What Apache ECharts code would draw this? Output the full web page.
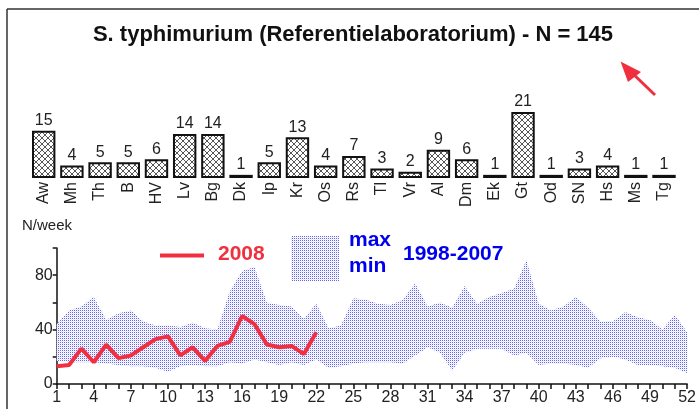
<!DOCTYPE html>
<html><head><meta charset="utf-8">
<script src="https://cdn.jsdelivr.net/npm/echarts@6/dist/echarts.min.js"></script>
<style>html,body{margin:0;padding:0;background:#fff}#c{width:699px;height:409px}</style>
</head><body><div id="c"></div>
<script>
// ---- data ----
const labCategories = ['Aw','Mh','Th','B','HV','Lv','Bg','Dk','Ip','Kr','Os','Rs','Tl','Vr','Al','Dm','Ek','Gt','Od','SN','Hs','Ms','Tg'];
const labCounts = [15,4,5,5,6,14,14,1,5,13,4,7,3,2,9,6,1,21,1,3,4,1,1];
const weeks = ['1','2','3','4','5','6','7','8','9','10','11','12','13','14','15','16','17','18','19','20','21','22','23','24','25','26','27','28','29','30','31','32','33','34','35','36','37','38','39','40','41','42','43','44','45','46','47','48','49','50','51','52'];
const cases2008 = [13,14,26,16,29,19,21,27,33,35,21,27,17,28,31,50,44,29,27,28,22,38];
const max9807 = [44,54,57,64,47,52,54,46,43,43,42,45,41,40,68,83,86,60,58,57,48,59,41,43,63,62,59,58,62,74,57,60,56,72,59,64,67,70,91,59,54,57,64,56,46,46,53,49,47,40,51,38];
const min9807 = [17,16,16,16,15,14,13,13,12,9,13,14,13,13,16,15,18,16,14,16,14,18,12,13,15,16,16,16,15,21,27,23,10,23,26,26,26,21,23,14,15,15,14,12,19,20,18,14,14,13,12,8];
const yTickValues = [0,40,80];

// ---- patterns ----
function hatch() {
  const c = document.createElement('canvas'); c.width = 6; c.height = 6;
  const g = c.getContext('2d');
  g.fillStyle = '#ffffff'; g.fillRect(0,0,6,6);
  g.strokeStyle = '#555555'; g.lineWidth = 1;
  g.beginPath(); g.moveTo(0,0); g.lineTo(6,6); g.moveTo(6,0); g.lineTo(0,6); g.stroke();
  return c;
}
function dots() {
  const c = document.createElement('canvas'); c.width = 2; c.height = 2;
  const g = c.getContext('2d');
  g.fillStyle = '#ffffff'; g.fillRect(0,0,2,2);
  g.fillStyle = '#6262ff'; g.fillRect(0,0,1,1);
  g.fillStyle = '#e4e4ff'; g.fillRect(1,1,1,1);
  return c;
}
const hatchPat = {image: hatch(), repeat: 'repeat'};
const dotPat = {image: dots(), repeat: 'repeat'};
const bandRange = max9807.map((v,i) => v - min9807[i]);

const chart = echarts.init(document.getElementById('c'), null, {renderer: 'canvas'});
const FONT = 'Liberation Sans, Arial, sans-serif';
chart.setOption({
  animation: false,
  backgroundColor: '#fff',
  title: {
    text: 'S. typhimurium (Referentielaboratorium) - N = 145',
    left: 348, top: 19, textAlign: 'center',
    textStyle: {fontFamily: FONT, fontWeight: 'bold', fontSize: 22, color: '#111'}
  },
  grid: [
    {left: 29.6, right: 20.9, top: 112, bottom: 231},
    {left: 56.7, right: 11.3, top: 248, bottom: 25}
  ],
  xAxis: [
    {gridIndex: 0, type: 'category', data: labCategories,
     axisLine: {show: false}, axisTick: {show: false},
     axisLabel: {rotate: 90, fontFamily: FONT, fontSize: 16, color: '#222', margin: 4, interval: 0}},
    {gridIndex: 1, type: 'category', data: weeks, boundaryGap: false,
     axisLine: {lineStyle: {color: '#111', width: 1.5}},
     axisTick: {interval: 0, length: 5, lineStyle: {color: '#111', width: 1.5}},
     axisLabel: {interval: 2, fontFamily: FONT, fontSize: 16, color: '#222', margin: 6}}
  ],
  yAxis: [
    {gridIndex: 0, type: 'value', min: 0, max: 21, show: false},
    {gridIndex: 1, type: 'value', min: 0, max: 100, interval: 20,
     splitLine: {show: false},
     axisLine: {show: true, lineStyle: {color: '#111', width: 1.5}},
     axisTick: {show: true, length: 4, lineStyle: {color: '#111', width: 1.5}},
     axisLabel: {fontFamily: FONT, fontSize: 16, color: '#222', margin: 4,
       formatter: v => yTickValues.includes(v) ? String(v) : ''}}
  ],
  series: [
    {type: 'bar', xAxisIndex: 0, yAxisIndex: 0, data: labCounts, barCategoryGap: '17%',
     itemStyle: {color: hatchPat, borderColor: '#111', borderWidth: 2},
     label: {show: true, position: 'top', distance: 2, fontFamily: FONT, fontSize: 16, color: '#222'}},
    {type: 'line', xAxisIndex: 1, yAxisIndex: 1, data: min9807, stack: 'band',
     symbol: 'none', lineStyle: {width: 0, opacity: 0}, areaStyle: {opacity: 0}, silent: true},
    {type: 'line', xAxisIndex: 1, yAxisIndex: 1, data: bandRange, stack: 'band',
     symbol: 'none', lineStyle: {width: 0, opacity: 0}, areaStyle: {color: dotPat, opacity: 1}, silent: true},
    {type: 'line', xAxisIndex: 1, yAxisIndex: 1, data: cases2008, z: 5,
     symbol: 'none', lineStyle: {color: '#f0303f', width: 4}, itemStyle: {color: '#f0303f'}}
  ],
  graphic: [
    {type: 'line', shape: {x1: 7, y1: 9, x2: 699, y2: 9}, style: {stroke: '#333', lineWidth: 1.5}},
    {type: 'line', shape: {x1: 7, y1: 9, x2: 7, y2: 409}, style: {stroke: '#333', lineWidth: 1.5}},
    {type: 'text', left: 22, top: 218, style: {text: 'N/week', font: '15px ' + FONT, fill: '#222'}},
    {type: 'line', shape: {x1: 160, y1: 255.5, x2: 204, y2: 255.5}, style: {stroke: '#f0303f', lineWidth: 4}},
    {type: 'text', left: 218, top: 244, style: {text: '2008', font: 'bold 21px ' + FONT, fill: '#f0303f'}},
    {type: 'rect', shape: {x: 291, y: 236, width: 48, height: 45}, style: {fill: dotPat}},
    {type: 'text', left: 349, top: 230, style: {text: 'max', font: 'bold 21px ' + FONT, fill: '#0000ee'}},
    {type: 'text', left: 349, top: 256, style: {text: 'min', font: 'bold 21px ' + FONT, fill: '#0000ee'}},
    {type: 'text', left: 403, top: 244, style: {text: '1998-2007', font: 'bold 21px ' + FONT, fill: '#0000ee'}},
    {type: 'line', shape: {x1: 655, y1: 95, x2: 630, y2: 71}, style: {stroke: '#f0303f', lineWidth: 3}},
    {type: 'polygon', shape: {points: [[620.5, 61.5], [641, 72], [628, 82]]}, style: {fill: '#f0303f'}}
  ]
});
</script>
</body></html>
